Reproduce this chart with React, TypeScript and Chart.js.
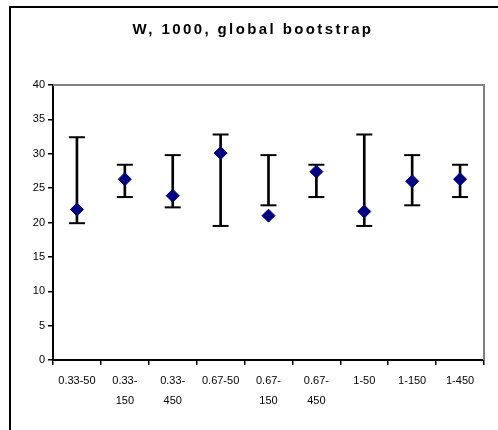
import React, { useEffect, useRef } from 'react';
import { Chart, registerables } from 'chart.js';

Chart.register(...registerables);

// ---- data ----
const titleText = 'W, 1000, global bootstrap';
const categories: string[][] = [
  ['0.33-50'],
  ['0.33-', '150'],
  ['0.33-', '450'],
  ['0.67-50'],
  ['0.67-', '150'],
  ['0.67-', '450'],
  ['1-50'],
  ['1-150'],
  ['1-450'],
];
const means = [21.9, 26.3, 23.9, 30.1, 21.0, 27.4, 21.6, 26.0, 26.3];
const lower = [19.9, 23.7, 22.2, 19.5, 22.5, 23.7, 19.5, 22.5, 23.7];
const upper = [32.4, 28.4, 29.8, 32.8, 29.8, 28.4, 32.8, 29.8, 28.4];
const yTicks = [0, 5, 10, 15, 20, 25, 30, 35, 40];

const FONT = "'Liberation Sans', Arial, sans-serif";

const titleSpacing = {
  id: 'titleSpacing',
  beforeDraw(chart: any) {
    chart.ctx.letterSpacing = '2.4px';
  },
  beforeDatasetsDraw(chart: any) {
    chart.ctx.letterSpacing = '0px';
  },
};

const plotFrame = {
  id: 'plotFrame',
  afterDraw(chart: any) {
    const { ctx, chartArea } = chart;
    ctx.save();
    ctx.letterSpacing = '0px';
    ctx.strokeStyle = '#808080';
    ctx.lineWidth = 2;
    ctx.beginPath();
    ctx.moveTo(chartArea.left, chartArea.top);
    ctx.lineTo(chartArea.right, chartArea.top);
    ctx.lineTo(chartArea.right, chartArea.bottom);
    ctx.stroke();
    ctx.restore();
  },
};

export default function App() {
  const ref = useRef<HTMLCanvasElement | null>(null);

  useEffect(() => {
    if (!ref.current) return;
    const chart = new Chart(ref.current, {
      type: 'bar',
      data: {
        labels: categories,
        datasets: [
          {
            type: 'line',
            label: 'mean',
            data: means,
            showLine: false,
            pointStyle: 'rectRot',
            pointRadius: 6.5,
            pointHoverRadius: 6.5,
            pointBackgroundColor: '#000080',
            pointBorderColor: '#000080',
            pointBorderWidth: 1,
            order: 0,
          } as any,
          {
            type: 'line',
            label: 'upper',
            data: upper,
            showLine: false,
            pointStyle: 'line',
            pointRadius: 8,
            pointHoverRadius: 8,
            pointBorderColor: '#000',
            pointBorderWidth: 2,
            order: 1,
          } as any,
          {
            type: 'line',
            label: 'lower',
            data: lower,
            showLine: false,
            pointStyle: 'line',
            pointRadius: 8,
            pointHoverRadius: 8,
            pointBorderColor: '#000',
            pointBorderWidth: 2,
            order: 1,
          } as any,
          {
            type: 'bar',
            label: 'range',
            data: lower.map((l, i) => [l, upper[i]]),
            backgroundColor: '#000',
            borderWidth: 0,
            barThickness: 2,
            order: 2,
          } as any,
        ],
      },
      options: {
        responsive: false,
        animation: false,
        layout: { padding: { left: 22, right: 14, top: 0, bottom: 0 } },
        plugins: {
          legend: { display: false },
          tooltip: { enabled: false },
          title: {
            display: true,
            text: titleText,
            color: '#000',
            font: { family: FONT, size: 15, weight: 'bold', lineHeight: 1.2 },
            padding: { top: 21, bottom: 46 },
          },
        },
        scales: {
          x: {
            type: 'category',
            offset: true,
            grid: {
              offset: true,
              drawOnChartArea: false,
              drawTicks: true,
              tickLength: 5,
              color: '#000',
              lineWidth: 1.5,
            },
            border: { display: true, color: '#000', width: 2 },
            ticks: {
              color: '#000',
              font: { family: FONT, size: 11, lineHeight: 1.8 },
              maxRotation: 0,
              minRotation: 0,
              autoSkip: false,
              padding: 6,
              z: 1,
            },
            afterFit(scale: any) {
              scale.height = 70;
            },
          },
          y: {
            min: 0,
            max: 40,
            afterBuildTicks(scale: any) {
              scale.ticks = yTicks.map((v) => ({ value: v }));
            },
            grid: {
              drawOnChartArea: false,
              drawTicks: true,
              tickLength: 5,
              color: '#000',
              lineWidth: 1.5,
            },
            border: { display: true, color: '#000', width: 2 },
            ticks: {
              color: '#000',
              font: { family: FONT, size: 11 },
              padding: 3,
              z: 1,
            },
            afterFit(scale: any) {
              scale.width = 31;
            },
          },
        },
      } as any,
      plugins: [titleSpacing, plotFrame],
    });
    return () => chart.destroy();
  }, []);

  return (
    <div
      style={{
        position: 'fixed',
        left: 0,
        top: 0,
        width: 498,
        height: 430,
        background: '#fff',
        overflow: 'hidden',
      }}
    >
      <div
        style={{
          position: 'absolute',
          left: 9,
          top: 6,
          width: 700,
          height: 700,
          border: '2px solid #000',
        }}
      />
      <canvas
        ref={ref}
        width={498}
        height={430}
        style={{ position: 'absolute', left: 0, top: 0, width: 498, height: 430 }}
      />
    </div>
  );
}
